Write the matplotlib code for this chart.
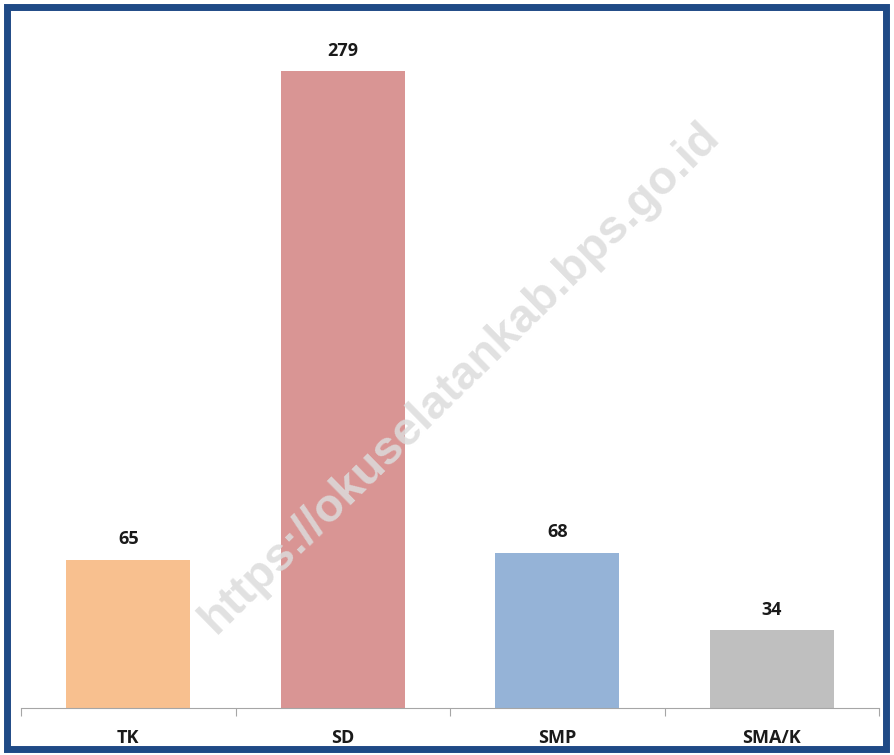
import matplotlib.pyplot as plt
from matplotlib.patches import Rectangle

# data
categories = ["TK", "SD", "SMP", "SMA/K"]
values = [65, 279, 68, 34]
colors = ["#F8C08F", "#D99594", "#95B3D7", "#BFBFBF"]

W, H = 894, 755
fig = plt.figure(figsize=(W / 100, H / 100), dpi=100)
fig.patch.set_facecolor("white")

# blue frame around the chart
fig.patches.append(Rectangle((7 / W, 6 / H), 879 / W, 742 / H, transform=fig.transFigure,
                             fill=False, edgecolor="#1F4A86", linewidth=5))

ax = fig.add_axes([21 / W, (H - 708) / H, 858 / W, 688 / H])
x = range(len(categories))
bars = ax.bar(x, values, width=0.58, color=colors)
ax.set_xlim(-0.5, len(categories) - 0.5)
ax.set_ylim(0, 688 / 2.283)

for b, v in zip(bars, values):
    ax.text(b.get_x() + b.get_width() / 2, v + 5, str(v), ha="center", va="bottom",
            fontsize=13, fontweight="bold", family="Open Sans", color="#1a1a1a")

for s in ["top", "right", "left"]:
    ax.spines[s].set_visible(False)
ax.spines["bottom"].set_color("#a6a6a6")
ax.set_yticks([])
ax.set_xticks([i - 0.5 for i in range(len(categories) + 1)])
ax.set_xticklabels([])
ax.tick_params(axis="x", length=6, color="#a6a6a6", direction="out")
for i, c in enumerate(categories):
    ax.text(i, -13, c, ha="center", va="center", fontsize=13, fontweight="bold",
            family="Open Sans", color="#1a1a1a")

# watermark
fig.text(460 / W, 1 - 378 / H, "https://okuselatankab.bps.go.id", rotation=44.5,
         ha="center", va="center", fontsize=34, color="#dcdcdc", alpha=0.85,
         family="Liberation Sans", fontweight="bold", zorder=10)

fig.savefig("out.png", dpi=100)
